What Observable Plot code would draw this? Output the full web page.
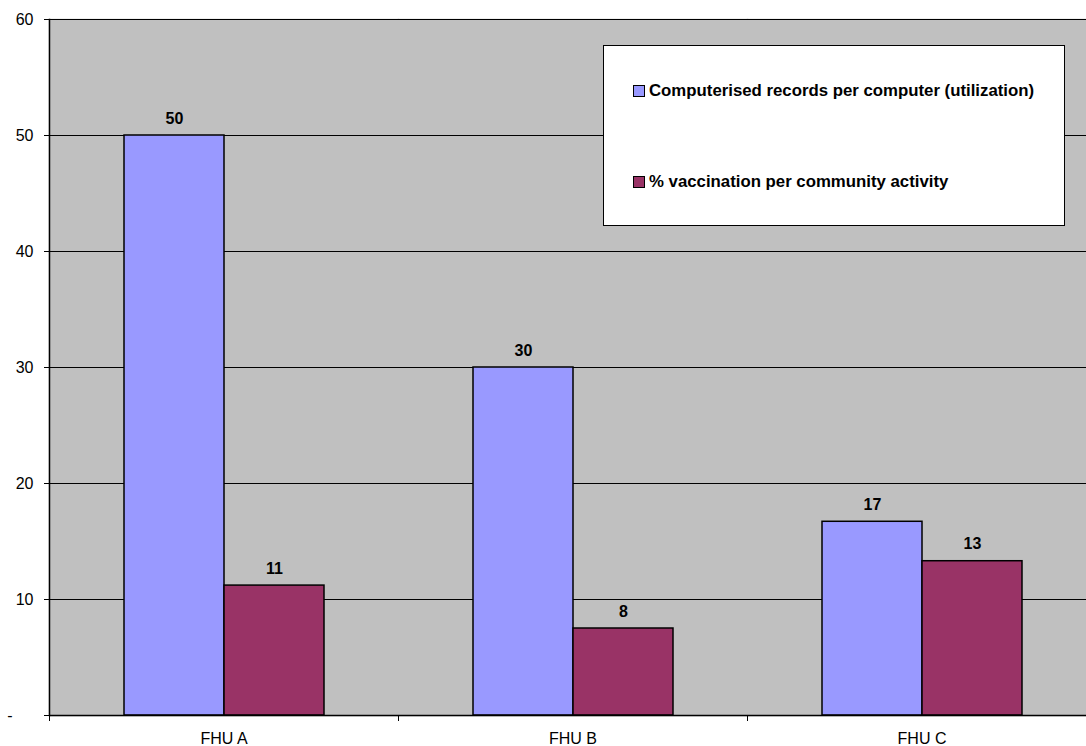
<!DOCTYPE html>
<html><head><meta charset="utf-8">
<script src="https://cdn.jsdelivr.net/npm/d3@7"></script>
<script src="https://cdn.jsdelivr.net/npm/@observablehq/plot@0.6"></script>
<style>
body{margin:0;background:#fff;font-family:"Liberation Sans",Arial,sans-serif;}
#wrap{position:relative;width:1086px;height:746px;overflow:hidden;}
#legend{position:absolute;left:603px;top:45px;width:462px;height:181px;background:#fff;border:1px solid #000;box-sizing:border-box;}
.item{position:absolute;left:29px;display:flex;align-items:center;font-weight:bold;font-size:16.8px;color:#000;white-space:nowrap;}
.sw{width:10px;height:10px;border:1px solid #000;margin-right:4px;}
</style></head>
<body><div id="wrap"></div>
<script>
const categories = ["FHU A", "FHU B", "FHU C"];
const seriesNames = ["Computerised records per computer (utilization)", "% vaccination per community activity"];
const utilization = [50, 30, 16.7];
const vaccination = [11.2, 7.5, 13.3];
const seriesColors = ["#9999FF", "#993366"];
const yTicks = [10, 20, 30, 40, 50, 60];

const data = categories.flatMap((c, i) => [
  {cat: c, series: seriesNames[0], value: utilization[i]},
  {cat: c, series: seriesNames[1], value: vaccination[i]}
]);

const W = 1086, H = 746, ML = 49;
const fxRange = [ML, 1096];
const halfBand = (fxRange[1] - fxRange[0]) / categories.length / 2;

const chart = Plot.plot({
  width: W, height: H,
  marginLeft: ML, marginRight: 0, marginTop: 19, marginBottom: 31,
  style: {fontFamily: "'Liberation Sans', Arial, sans-serif", background: "transparent", color: "#000", overflow: "hidden"},
  fx: {domain: categories, range: fxRange, padding: 0, label: null, axis: null},
  x: {domain: seriesNames, paddingInner: 0, paddingOuter: 0.745, axis: null},
  y: {domain: [0, 60], axis: null, label: null},
  color: {domain: seriesNames, range: seriesColors},
  marks: [
    Plot.frame({fill: "#C0C0C0", stroke: "#C0C0C0", strokeWidth: 1.5}),
    Plot.ruleY(yTicks, {stroke: "#000", strokeWidth: 1}),
    Plot.barY(data, {fx: "cat", x: "series", y: "value", fill: "series", stroke: "#000", strokeWidth: 1.5}),
    Plot.text(data, {fx: "cat", x: "series", y: "value", text: d => Math.round(d.value), lineAnchor: "bottom", dy: -12, fontWeight: "bold", fontSize: 16, fill: "#000"}),
    Plot.ruleY([0], {stroke: "#000", strokeWidth: 1.5}),
    Plot.frame({anchor: "left", facetAnchor: "left", stroke: "#000", strokeWidth: 1.5}),
    Plot.axisY(yTicks, {tickSize: 5, tickPadding: 11, fontSize: 16, tickFormat: d => d, label: null}),
    Plot.axisY([0], {tickSize: 5, tickPadding: 32, fontSize: 16, tickFormat: () => "-", label: null}),
    Plot.axisFx({anchor: "bottom", tickSize: 0, tickPadding: 17, fontSize: 16, label: null}),
    Plot.axisFx({anchor: "bottom", tickSize: 6, tickFormat: () => "", label: null, dx: -halfBand})
  ]
});

const wrap = document.getElementById("wrap");
wrap.appendChild(chart);

const legend = document.createElement("div");
legend.id = "legend";
const legendTops = [35, 126];
seriesNames.forEach((name, i) => {
  const item = document.createElement("div");
  item.className = "item";
  item.style.top = legendTops[i] + "px";
  const sw = document.createElement("div");
  sw.className = "sw";
  sw.style.background = seriesColors[i];
  const label = document.createElement("span");
  label.textContent = name;
  item.appendChild(sw);
  item.appendChild(label);
  legend.appendChild(item);
});
wrap.appendChild(legend);
</script>
</body></html>
